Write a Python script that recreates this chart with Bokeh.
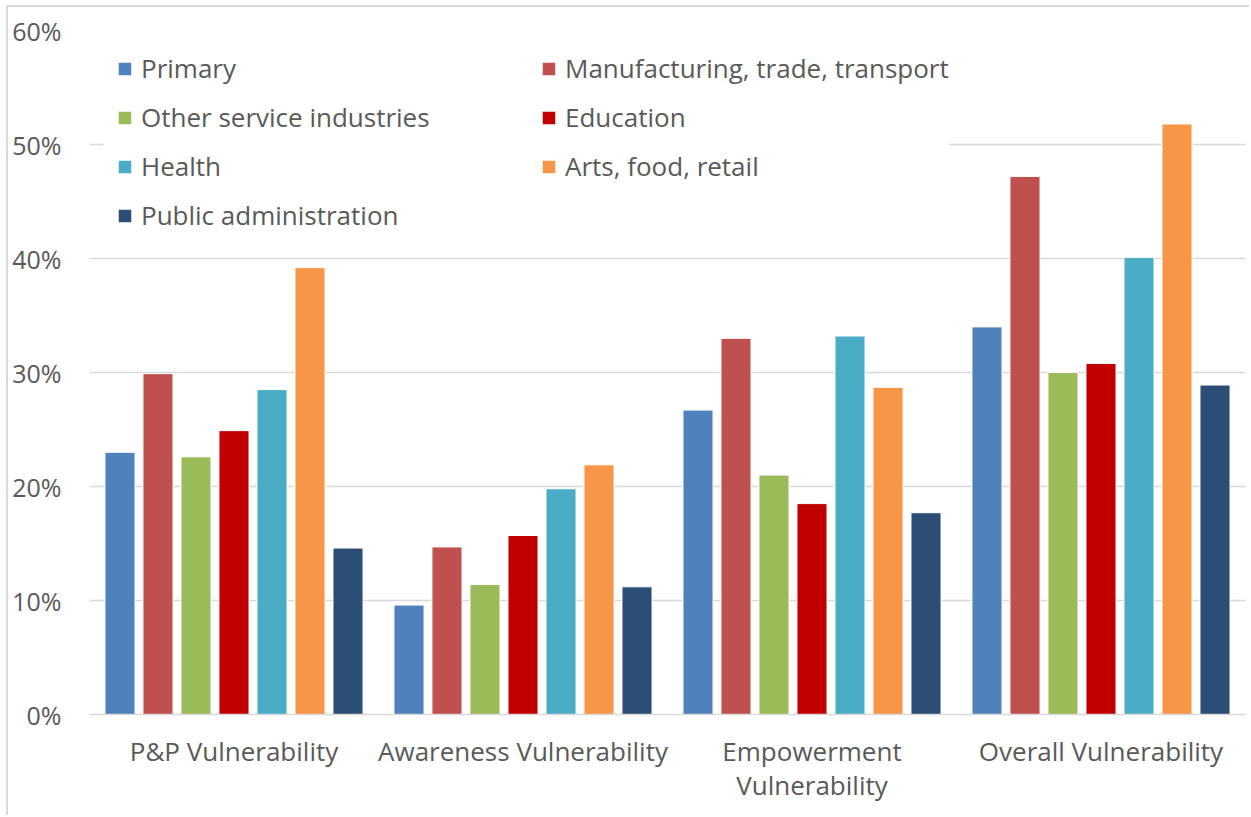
from bokeh.plotting import figure
from bokeh.models import (ColumnDataSource, FactorRange, Range1d, NumeralTickFormatter,
                          FixedTicker, Legend, LegendItem, BoxAnnotation)
from bokeh.transform import dodge
from bokeh.embed import file_html
from bokeh.resources import INLINE

categories = ["P&P Vulnerability", "Awareness Vulnerability",
              "Empowerment\nVulnerability", "Overall Vulnerability"]
series_names = ["Primary", "Manufacturing, trade, transport", "Other service industries",
                "Education", "Health", "Arts, food, retail", "Public administration"]
primary = [0.230, 0.096, 0.267, 0.340]
manufacturing = [0.299, 0.147, 0.330, 0.472]
other_services = [0.226, 0.114, 0.210, 0.300]
education = [0.249, 0.157, 0.185, 0.308]
health = [0.285, 0.198, 0.332, 0.401]
arts = [0.392, 0.219, 0.287, 0.518]
public_admin = [0.146, 0.112, 0.177, 0.289]
colors = ["#4F81BD", "#C0504D", "#9BBB59", "#C00000", "#4BACC6", "#F79646", "#2C4D75"]
y_ticks = [0, 0.1, 0.2, 0.3, 0.4, 0.5, 0.6]

series_values = [primary, manufacturing, other_services, education, health, arts, public_admin]
data = {"cat": categories}
for i, vals in enumerate(series_values):
    data[f"s{i}"] = vals
src = ColumnDataSource(data)

FONT = "Open Sans"
TXT = "#595959"
GRID = "#d9d9d9"

p = figure(width=1243, height=810, x_range=FactorRange(*categories, range_padding=0),
           y_range=Range1d(0, 0.6), output_backend="svg", toolbar_location=None,
           min_border_left=81, min_border_right=6, min_border_top=23, min_border_bottom=103,
           styles={"border-left": "2px solid #d9d9d9", "border-top": "2px solid #d9d9d9",
                   "margin-left": "6px", "margin-top": "5px"})
p.outline_line_color = None
p.xgrid.grid_line_color = None
p.ygrid.grid_line_color = GRID
p.ygrid.grid_line_width = 1.5
p.yaxis.ticker = FixedTicker(ticks=y_ticks)
p.yaxis.formatter = NumeralTickFormatter(format="0%")
p.yaxis.axis_line_color = None
p.yaxis.major_label_standoff = 28
p.xaxis.axis_line_color = GRID
p.xaxis.axis_line_width = 1.5
p.xaxis.major_label_standoff = 18
for ax in (p.xaxis, p.yaxis):
    ax.major_tick_line_color = None
    ax.minor_tick_line_color = None
    ax.major_tick_out = 0
    ax.major_tick_in = 0
    ax.minor_tick_out = 0
    ax.major_label_text_font = FONT
    ax.major_label_text_color = TXT
p.yaxis.major_label_text_font_size = "25px"
p.xaxis.major_label_text_font_size = "26px"
p.xaxis.major_label_text_line_height = 0.96

# white background behind the legend block (hides the gridline it covers)
p.add_layout(BoxAnnotation(left=14 / 289, right=858 / 289, bottom=0.47, top=0.535,
                           fill_color="white", fill_alpha=1.0, line_color=None,
                           level="underlay"))

pitch = 0.1315
bw = 0.104
renderers = []
for i, (name, col) in enumerate(zip(series_names, colors)):
    r = p.vbar(x=dodge("cat", (i - 3) * pitch, range=p.x_range), top=f"s{i}", width=bw,
               source=src, fill_color=col, line_color="white", line_width=1)
    renderers.append(r)

def make_legend(idx, x, y):
    return Legend(items=[LegendItem(label=series_names[k], renderers=[renderers[k]]) for k in idx],
                  location=(x, y), orientation="vertical", padding=15, margin=0,
                  spacing=13, glyph_width=17, glyph_height=17, label_height=35,
                  label_standoff=8, border_line_color=None,
                  background_fill_color="white", background_fill_alpha=1.0,
                  label_text_font=FONT, label_text_font_size="26px", label_text_color=TXT)

p.add_layout(make_legend([0, 2, 4, 6], 27, 481), "center")
p.add_layout(make_legend([1, 3, 5], 451, 530), "center")

open("out.html", "w").write(file_html(p, INLINE))
